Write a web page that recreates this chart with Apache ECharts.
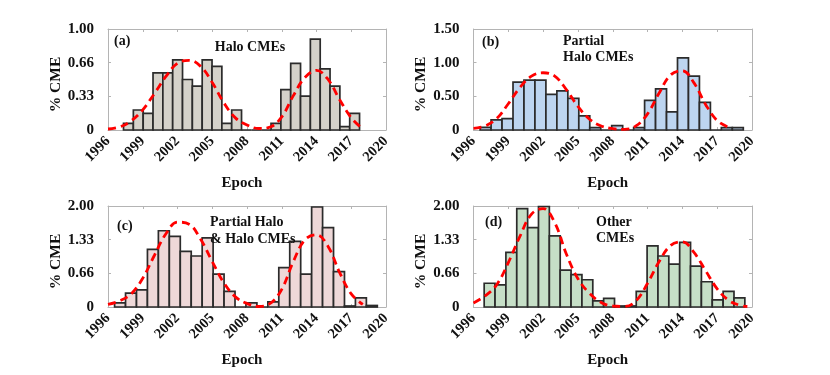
<!DOCTYPE html>
<html>
<head>
<meta charset="utf-8">
<script src="https://cdn.jsdelivr.net/npm/echarts@6/dist/echarts.min.js"></script>
<style>
html,body{margin:0;padding:0;background:#fff;}
#chart{width:830px;height:375px;}
</style>
</head>
<body>
<div id="chart"></div>
<script>
// ---- data ----
const xMin = 1996, xMax = 2020, xStep = 3;

// Panel (a) Halo CMEs
const aBinStart = 1997.34, aBinWidth = 0.849;
const aValues = [0.066,0.198,0.165,0.565,0.565,0.695,0.5,0.435,0.695,0.63,0.066,0.198,0,0,0,0.066,0.4,0.66,0.335,0.9,0.605,0.435,0.033,0.165];
const aFitX = [1996,1997,1998,1999,2000,2001,2002,2003,2004,2005,2006,2007,2008,2009,2010,2011,2012,2013,2014,2015,2016,2017,2017.8];
const aFitY = [0.01,0.03,0.09,0.2,0.36,0.53,0.66,0.69,0.63,0.47,0.27,0.12,0.05,0.015,0.03,0.13,0.34,0.52,0.59,0.5,0.3,0.12,0.03];
const aYLabels = ['0','0.33','0.66','1.00'];

// Panel (b) Partial Halo CMEs
const bBinStart = 1996.57, bBinWidth = 0.945;
const bValues = [0.04,0.15,0.17,0.71,0.74,0.74,0.53,0.58,0.47,0.21,0.034,0,0.064,0,0.034,0.44,0.61,0.27,1.07,0.8,0.41,0,0.034,0.034];
const bFitX = [1996,1997,1998,1999,2000,2001,2002,2003,2004,2005,2006,2007,2008,2009,2010,2011,2012,2013,2014,2015,2016,2017,2018];
const bFitY = [0.025,0.06,0.17,0.39,0.63,0.8,0.85,0.8,0.6,0.35,0.16,0.06,0.02,0.01,0.06,0.24,0.55,0.82,0.88,0.7,0.38,0.14,0.04];
const bYLabels = ['0','0.50','1.00','1.50'];

// Panel (c) Partial Halo & Halo CMEs
const cBinStart = 1996.57, cBinWidth = 0.945;
const cValues = [0.08,0.275,0.34,1.14,1.51,1.4,1.1,1.01,1.37,0.65,0.31,0,0.08,0,0.1,0.78,1.3,0.65,1.98,1.57,0.7,0.02,0.18,0.03];
const cFitX = [1996,1997,1998,1999,2000,2001,2002,2003,2004,2005,2006,2007,2008,2009,2010,2011,2012,2013,2014,2015,2016,2017,2018];
const cFitY = [0.05,0.12,0.26,0.57,1.02,1.45,1.68,1.64,1.34,0.9,0.48,0.2,0.07,0.01,0.07,0.35,0.9,1.33,1.43,1.2,0.68,0.26,0.05];
const cYLabels = ['0','0.66','1.33','2.00'];

// Panel (d) Other CMEs
const dBinStart = 1996.92, dBinWidth = 0.936;
const dValues = [0.47,0.44,1.08,1.95,1.57,1.99,1.41,0.73,0.64,0.54,0.12,0.17,0.02,0.02,0.31,1.21,1.01,0.85,1.28,0.81,0.5,0.14,0.31,0.18];
const dFitX = [1996,1997,1998,1999,2000,2001,2002,2003,2004,2005,2006,2007,2008,2009,2010,2011,2012,2013,2014,2015,2016,2017,2018,2019,2019.6];
const dFitY = [0.08,0.22,0.44,0.88,1.4,1.84,1.95,1.67,1.05,0.56,0.27,0.09,0.02,0.01,0.12,0.47,0.9,1.22,1.29,1.08,0.72,0.36,0.13,0.03,0.01];
const dYLabels = ['0','0.66','1.33','2.00'];

// ---- styling / layout ----
const FONT = '"Liberation Serif", "Times New Roman", serif';
const AXIS_GRAY = '#b4b4b4';
const panels = [
  {key:'a', grid:{left:108, top:29, width:278, height:101}, ymax:1, yLabels:aYLabels, start:aBinStart, w:aBinWidth, vals:aValues, fx:aFitX, fy:aFitY, fill:'#d5d2ca'},
  {key:'b', grid:{left:473.5, top:29, width:278.5, height:101}, ymax:1.5, yLabels:bYLabels, start:bBinStart, w:bBinWidth, vals:bValues, fx:bFitX, fy:bFitY, fill:'#bdd5f0'},
  {key:'c', grid:{left:108, top:206, width:278, height:101}, ymax:2, yLabels:cYLabels, start:cBinStart, w:cBinWidth, vals:cValues, fx:cFitX, fy:cFitY, fill:'#eed8d8'},
  {key:'d', grid:{left:473.5, top:206, width:278.5, height:101}, ymax:2, yLabels:dYLabels, start:dBinStart, w:dBinWidth, vals:dValues, fx:dFitX, fy:dFitY, fill:'#c6dfc7'}
];

const grids = [], xAxes = [], yAxes = [], series = [];
panels.forEach((p, i) => {
  grids.push(Object.assign({containLabel:false}, p.grid));
  const yInt = p.ymax / 3;
  // bottom x axis with labels
  xAxes.push({
    type:'value', gridIndex:i, min:xMin, max:xMax, interval:xStep, position:'bottom',
    axisLine:{show:true, onZero:false, lineStyle:{color:AXIS_GRAY, width:1}},
    axisTick:{show:true, inside:true, length:3, lineStyle:{color:AXIS_GRAY}},
    splitLine:{show:false},
    axisLabel:{rotate:45, margin:9, fontFamily:FONT, fontWeight:'bold', fontSize:14.5, color:'#111',
      formatter:(v) => String(Math.round(v))},
    name:'Epoch', nameLocation:'middle', nameGap:46,
    nameTextStyle:{fontFamily:FONT, fontWeight:'bold', fontSize:15, color:'#111', padding:[0,10,0,0]}
  });
  // top x axis (ticks only)
  xAxes.push({
    type:'value', gridIndex:i, min:xMin, max:xMax, interval:xStep, position:'top',
    axisLine:{show:true, onZero:false, lineStyle:{color:AXIS_GRAY, width:1}},
    axisTick:{show:true, inside:true, length:3, lineStyle:{color:AXIS_GRAY}},
    splitLine:{show:false}, axisLabel:{show:false}
  });
  // left y axis with labels
  yAxes.push({
    type:'value', gridIndex:i, min:0, max:p.ymax, interval:yInt, position:'left',
    axisLine:{show:true, onZero:false, lineStyle:{color:AXIS_GRAY, width:1}},
    axisTick:{show:true, inside:true, length:3, lineStyle:{color:AXIS_GRAY}},
    splitLine:{show:false},
    axisLabel:{margin:14, fontFamily:FONT, fontWeight:'bold', fontSize:15, color:'#111',
      formatter:(v) => p.yLabels[Math.round(v / yInt)]},
    name:'% CME', nameLocation:'middle', nameGap:40,
    nameTextStyle:{fontFamily:FONT, fontWeight:'bold', fontSize:15.5, color:'#111', padding:[0,10,0,0]}
  });
  // right y axis (ticks only)
  yAxes.push({
    type:'value', gridIndex:i, min:0, max:p.ymax, interval:yInt, position:'right',
    axisLine:{show:true, onZero:false, lineStyle:{color:AXIS_GRAY, width:1}},
    axisTick:{show:true, inside:true, length:3, lineStyle:{color:AXIS_GRAY}},
    splitLine:{show:false}, axisLabel:{show:false}
  });
  const barData = p.vals.map((v, k) => [p.start + k * p.w, p.start + (k + 1) * p.w, v]);
  series.push({
    type:'custom', xAxisIndex:2*i, yAxisIndex:2*i, z:2,
    data:barData,
    renderItem:(params, api) => {
      const x0 = api.value(0), x1 = api.value(1), v = api.value(2);
      const p0 = api.coord([x0, v]);
      const p1 = api.coord([x1, 0]);
      return {type:'rect', shape:{x:p0[0], y:p0[1], width:p1[0]-p0[0], height:p1[1]-p0[1]},
        style:{fill:p.fill, stroke:'#2b2b2b', lineWidth:1.7}};
    }
  });
  series.push({
    type:'line', xAxisIndex:2*i, yAxisIndex:2*i, z:5,
    data:p.fx.map((x, k) => [x, p.fy[k]]),
    smooth:0.4, showSymbol:false, symbol:'none',
    lineStyle:{color:'#ff0000', width:2.8, type:[8,5]}
  });
});

function txt(x, y, s, align) {
  return {type:'text', x:x, y:y, z:10, style:{text:s, fontFamily:FONT, fontWeight:'bold', fontSize:14,
    fill:'#111', align:align || 'left', verticalAlign:'middle'}};
}
const graphics = [
  txt(114, 41, '(a)'), txt(250, 47, 'Halo CMEs', 'center'),
  txt(482, 42, '(b)'), txt(563, 41, 'Partial'), txt(563, 57, 'Halo CMEs'),
  txt(117, 226, '(c)'), txt(210, 222, 'Partial Halo'), txt(210, 239, '& Halo CMEs'),
  txt(485, 222, '(d)'), txt(596, 222, 'Other'), txt(596, 238, 'CMEs')
];

const chart = echarts.init(document.getElementById('chart'), null, {renderer:'canvas'});
chart.setOption({
  animation:false,
  backgroundColor:'#ffffff',
  grid:grids, xAxis:xAxes, yAxis:yAxes, series:series,
  graphic:graphics
});
</script>
</body>
</html>
